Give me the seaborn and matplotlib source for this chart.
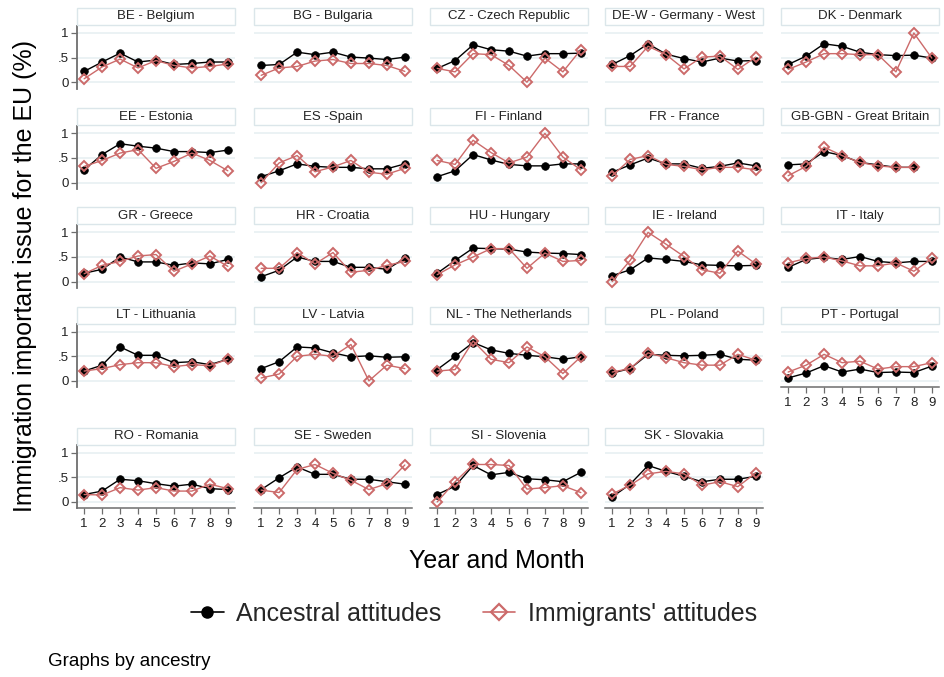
import matplotlib
matplotlib.use("Agg")
import matplotlib.pyplot as plt
import pandas as pd
import seaborn as sns
from matplotlib.lines import Line2D
from matplotlib.patches import Rectangle

sns.set_theme(style="white")
plt.rcParams["font.family"] = ["Liberation Sans", "DejaVu Sans"]

# Panel titles, in reading order (5 per row)
countries = [
    "BE - Belgium", "BG - Bulgaria", "CZ - Czech Republic", "DE-W - Germany - West", "DK - Denmark",
    "EE - Estonia", "ES -Spain", "FI - Finland", "FR - France", "GB-GBN - Great Britain",
    "GR - Greece", "HR - Croatia", "HU - Hungary", "IE - Ireland", "IT - Italy",
    "LT - Lithuania", "LV - Latvia", "NL - The Netherlands", "PL - Poland", "PT - Portugal",
    "RO - Romania", "SE - Sweden", "SI - Slovenia", "SK - Slovakia",
]

months = [1, 2, 3, 4, 5, 6, 7, 8, 9]
month_labels = ["1", "2", "3", "4", "5", "6", "7", "8", "9"]
y_ticks = [0, 0.5, 1]
y_tick_labels = ["0", ".5", "1"]

# Ancestral attitudes, one list per country (same order as above)
ancestral = [
    [0.22, 0.41, 0.59, 0.41, 0.45, 0.36, 0.38, 0.41, 0.41],
    [0.34, 0.36, 0.61, 0.56, 0.61, 0.51, 0.49, 0.46, 0.51],
    [0.28, 0.44, 0.76, 0.66, 0.63, 0.53, 0.58, 0.58, 0.59],
    [0.36, 0.54, 0.78, 0.57, 0.48, 0.41, 0.49, 0.43, 0.44],
    [0.36, 0.53, 0.78, 0.73, 0.61, 0.56, 0.54, 0.55, 0.49],
    [0.26, 0.57, 0.79, 0.74, 0.70, 0.63, 0.63, 0.61, 0.66],
    [0.12, 0.24, 0.38, 0.33, 0.31, 0.31, 0.28, 0.28, 0.38],
    [0.12, 0.24, 0.57, 0.46, 0.37, 0.34, 0.34, 0.38, 0.38],
    [0.21, 0.36, 0.50, 0.38, 0.38, 0.29, 0.33, 0.40, 0.34],
    [0.36, 0.38, 0.63, 0.55, 0.41, 0.36, 0.31, 0.31],
    [0.17, 0.25, 0.50, 0.40, 0.40, 0.33, 0.38, 0.36, 0.45],
    [0.10, 0.23, 0.50, 0.41, 0.41, 0.29, 0.29, 0.25, 0.47],
    [0.17, 0.43, 0.68, 0.67, 0.66, 0.60, 0.58, 0.57, 0.55],
    [0.12, 0.24, 0.48, 0.45, 0.41, 0.34, 0.33, 0.32, 0.33],
    [0.29, 0.45, 0.49, 0.45, 0.51, 0.41, 0.38, 0.41, 0.41],
    [0.20, 0.32, 0.69, 0.52, 0.52, 0.37, 0.39, 0.33, 0.44],
    [0.25, 0.39, 0.69, 0.67, 0.57, 0.49, 0.51, 0.48, 0.49],
    [0.23, 0.50, 0.78, 0.63, 0.56, 0.52, 0.49, 0.44, 0.49],
    [0.16, 0.25, 0.54, 0.52, 0.51, 0.52, 0.54, 0.44, 0.42],
    [0.06, 0.16, 0.31, 0.18, 0.24, 0.17, 0.18, 0.17, 0.30],
    [0.15, 0.22, 0.46, 0.43, 0.37, 0.32, 0.36, 0.27, 0.25],
    [0.25, 0.49, 0.71, 0.56, 0.56, 0.46, 0.46, 0.41, 0.36],
    [0.15, 0.32, 0.74, 0.55, 0.60, 0.47, 0.45, 0.41, 0.60],
    [0.10, 0.36, 0.74, 0.62, 0.52, 0.41, 0.46, 0.46, 0.52],
]

# Immigrants' attitudes, one list per country (same order as above)
immigrants = [
    [0.07, 0.31, 0.47, 0.29, 0.44, 0.34, 0.29, 0.32, 0.37],
    [0.14, 0.29, 0.32, 0.43, 0.46, 0.38, 0.38, 0.34, 0.22],
    [0.28, 0.21, 0.58, 0.56, 0.34, 0.00, 0.49, 0.21, 0.66],
    [0.32, 0.32, 0.73, 0.56, 0.27, 0.51, 0.53, 0.26, 0.51],
    [0.26, 0.41, 0.58, 0.58, 0.56, 0.56, 0.21, 1.00, 0.49],
    [0.33, 0.45, 0.60, 0.67, 0.29, 0.43, 0.60, 0.45, 0.24],
    [0.00, 0.40, 0.55, 0.22, 0.32, 0.45, 0.21, 0.17, 0.29],
    [0.45, 0.37, 0.86, 0.61, 0.40, 0.52, 1.00, 0.52, 0.26],
    [0.14, 0.47, 0.55, 0.37, 0.33, 0.26, 0.31, 0.31, 0.26],
    [0.14, 0.33, 0.72, 0.55, 0.41, 0.34, 0.31, 0.31],
    [0.16, 0.33, 0.41, 0.52, 0.55, 0.21, 0.36, 0.52, 0.31],
    [0.27, 0.27, 0.59, 0.36, 0.59, 0.19, 0.23, 0.33, 0.41],
    [0.14, 0.34, 0.50, 0.67, 0.67, 0.27, 0.58, 0.41, 0.43],
    [0.00, 0.43, 1.00, 0.76, 0.51, 0.24, 0.17, 0.62, 0.36],
    [0.38, 0.47, 0.50, 0.42, 0.32, 0.32, 0.38, 0.21, 0.47],
    [0.20, 0.25, 0.33, 0.37, 0.37, 0.29, 0.33, 0.31, 0.44],
    [0.06, 0.14, 0.50, 0.54, 0.50, 0.74, 0.00, 0.32, 0.25],
    [0.20, 0.23, 0.81, 0.44, 0.37, 0.69, 0.49, 0.15, 0.49],
    [0.18, 0.25, 0.57, 0.47, 0.37, 0.32, 0.32, 0.54, 0.42],
    [0.18, 0.32, 0.54, 0.37, 0.40, 0.24, 0.29, 0.29, 0.37],
    [0.15, 0.14, 0.29, 0.24, 0.29, 0.22, 0.22, 0.36, 0.27],
    [0.24, 0.19, 0.66, 0.76, 0.58, 0.44, 0.25, 0.37, 0.75],
    [0.00, 0.41, 0.76, 0.76, 0.74, 0.26, 0.29, 0.33, 0.19],
    [0.16, 0.34, 0.57, 0.62, 0.57, 0.34, 0.41, 0.31, 0.59],
]

series_labels = ["Ancestral attitudes", "Immigrants' attitudes"]

PINK = "#cc6a6a"
AXIS_GREY = "#6e6e6e"
GRID = "#e6eff1"
BOX_EDGE = "#dbe6ea"

W, H = 945, 677
fig = plt.figure(figsize=(W / 100, H / 100), dpi=100)
fig.patch.set_facecolor("white")

# Panel geometry in pixels
col_left = [77, 254, 430, 605, 781]
panel_w = 158
row_top = [25.6, 126, 225, 324.3, 445.3]
panel_h = 63
box_h = 17
n_total = len(countries)

for i, name in enumerate(countries):
    r, c = divmod(i, 5)
    ax = fig.add_axes([col_left[c] / W, 1 - (row_top[r] + panel_h) / H,
                       panel_w / W, panel_h / H])
    n = len(ancestral[i])
    df = pd.DataFrame({"month": months[:n],
                       "anc": ancestral[i],
                       "imm": immigrants[i]})
    sns.lineplot(data=df, x="month", y="anc", ax=ax, color="black", lw=1.0,
                 marker="o", ms=5.5, mfc="black", mec="black", mew=0.5, zorder=3)
    sns.lineplot(data=df, x="month", y="imm", ax=ax, color=PINK, lw=1.0,
                 marker="D", ms=5.5, mfc="none", mec=PINK, mew=1.4, zorder=4)

    ax.set_xlim(0.6, 9.4)
    ax.set_ylim(-0.13, 1.15)
    ax.set_xlabel("")
    ax.set_ylabel("")
    ax.set_facecolor("white")
    for s in ax.spines.values():
        s.set_visible(False)

    ax.set_yticks(y_ticks)
    ax.yaxis.grid(True, color=GRID, lw=1.1, zorder=0)
    ax.xaxis.grid(False)

    # y axis only on the first column
    if c == 0:
        ax.spines["left"].set_visible(True)
        ax.spines["left"].set_color(AXIS_GREY)
        ax.spines["left"].set_linewidth(1.3)
        ax.set_yticklabels(y_tick_labels)
        ax.tick_params(axis="y", left=True, length=4, width=0.9, color=AXIS_GREY,
                       labelsize=9.5, labelcolor="#222222", pad=2)
    else:
        ax.tick_params(axis="y", left=False, labelleft=False)

    # x axis only on the last panel of each column
    bottom = (i + 5 >= n_total)
    if bottom:
        ax.spines["bottom"].set_visible(True)
        ax.spines["bottom"].set_color(AXIS_GREY)
        ax.spines["bottom"].set_linewidth(1.1)
        ax.set_xticks(months)
        ax.set_xticklabels(month_labels)
        ax.tick_params(axis="x", bottom=True, length=4, width=0.9, color=AXIS_GREY,
                       labelsize=9.5, labelcolor="#222222", pad=3)
    else:
        ax.set_xticks(months)
        ax.tick_params(axis="x", bottom=False, labelbottom=False)

    # Title strip above each panel
    y0 = 1 + 0.8 / panel_h
    ax.add_patch(Rectangle((0, y0), 1, box_h / panel_h, transform=ax.transAxes,
                           facecolor="white", edgecolor=BOX_EDGE, lw=1.0,
                           clip_on=False, zorder=5))
    ax.text(0.5, y0 + box_h / 2 / panel_h, name, transform=ax.transAxes,
            ha="center", va="center", fontsize=9.5, color="#222222", zorder=6)

fig.text(25 / W, 1 - 276 / H, "Immigration important issue for the EU (%)",
         rotation=90, ha="center", va="center", fontsize=18, color="black")
fig.text(497 / W, 1 - 561 / H, "Year and Month", ha="center", va="center",
         fontsize=18, color="black")

handles = [
    Line2D([], [], color="black", lw=1.2, marker="o", ms=8, mfc="black", mec="black"),
    Line2D([], [], color=PINK, lw=1.2, marker="D", ms=8, mfc="none", mec=PINK, mew=1.6),
]
fig.legend(handles, series_labels, loc="center", bbox_to_anchor=(474 / W, 1 - 614 / H),
           ncol=2, frameon=False, fontsize=18, handlelength=1.3, handletextpad=0.5,
           columnspacing=1.65)

fig.text(48 / W, 1 - 662 / H, "Graphs by ancestry", ha="left", va="center",
         fontsize=13.5, color="black")

fig.savefig("out.png", dpi=100, facecolor="white")
